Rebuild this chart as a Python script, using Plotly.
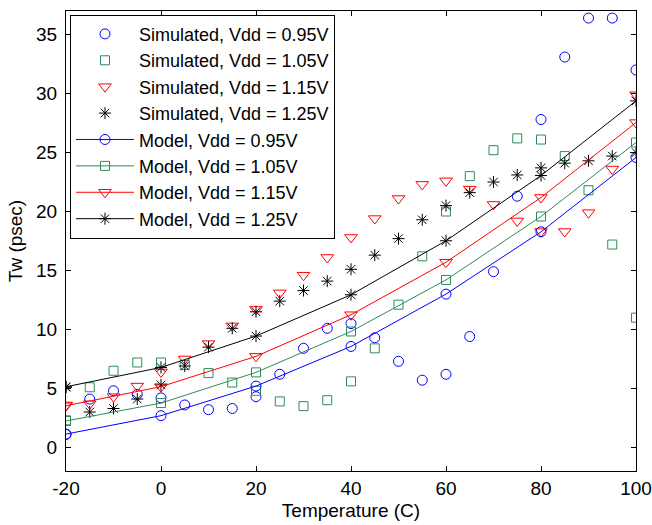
import plotly.graph_objects as go

temps_sim = [-20, -15, -10, -5, 0, 5, 10, 15, 20, 25, 30, 35, 40, 45, 50,
             55, 60, 65, 70, 75, 80, 85, 90, 95, 100]
sim_095 = [1.1, 4.1, 4.8, 4.5, 4.2, 3.6, 3.2, 3.3, 4.3, 6.2, 8.4, 10.1, 10.5, 9.3, 7.3,
           5.7, 6.2, 9.4, 14.9, 21.3, 27.8, 33.1, 36.4, 36.4, 32.0]
sim_105 = [2.3, 5.1, 6.5, 7.2, 7.2, 7.0, 6.3, 5.5, 4.8, 3.9, 3.5, 4.0, 5.6, 8.4, 12.1,
           16.2, 20.0, 23.0, 25.2, 26.2, 26.1, 24.7, 21.8, 17.2, 11.0]
sim_115 = [3.6, 3.7, 4.3, 5.2, 6.4, 7.5, 8.8, 10.3, 11.7, 13.1, 14.6, 16.1, 17.8, 19.4, 21.1,
           22.3, 22.6, 21.9, 20.6, 19.2, 18.3, 18.3, 19.9, 23.6, 29.9]
sim_125 = [5.1, 3.0, 3.3, 4.1, 5.3, 6.9, 8.5, 10.1, 11.5, 12.4, 13.3, 14.1, 15.1, 16.3, 17.7,
           19.3, 20.5, 21.6, 22.5, 23.1, 23.7, 24.1, 24.3, 24.7, 25.0]

temps_model = [-20, 0, 20, 40, 60, 80, 100]
model_095 = [1.13, 2.69, 5.2, 8.56, 13.0, 18.28, 24.58]
model_105 = [2.24, 3.76, 6.36, 9.83, 14.2, 19.58, 25.85]
model_115 = [3.53, 5.15, 7.72, 11.25, 15.7, 21.19, 27.54]
model_125 = [5.14, 6.78, 9.44, 12.94, 17.52, 23.05, 29.38]

x_ticks = [-20, 0, 20, 40, 60, 80, 100]
x_labels = ["-20", "0", "20", "40", "60", "80", "100"]
y_ticks = [0, 5, 10, 15, 20, 25, 30, 35]
y_labels = ["0", "5", "10", "15", "20", "25", "30", "35"]

BLUE = "rgb(0,0,255)"
GREEN = "rgb(46,139,87)"
RED = "rgb(255,0,0)"
BLACK = "rgb(0,0,0)"

series = [
    ("0.95V", sim_095, model_095, BLUE, "circle-open", 10),
    ("1.05V", sim_105, model_105, GREEN, "square-open", 9),
    ("1.15V", sim_115, model_115, RED, "triangle-down-open", 11),
    ("1.25V", sim_125, model_125, BLACK, "asterisk-open", 10),
]

fig = go.Figure()
g = 0
for name, sim, _, col, sym, sz in series:
    fig.add_trace(go.Scatter(
        x=temps_sim, y=sim, mode="markers", name=f"Simulated, Vdd = {name}",
        legendgroup=f"g{g}",
        marker=dict(symbol=sym, size=sz, color=col, line=dict(width=1, color=col)),
    ))
    g += 1
for name, _, mod, col, sym, sz in series:
    fig.add_trace(go.Scatter(
        x=temps_model, y=mod, mode="lines+markers", name=f"Model, Vdd = {name}",
        legendgroup=f"g{g}",
        line=dict(color=col, width=1),
        marker=dict(symbol=sym, size=sz, color=col, line=dict(width=1, color=col)),
    ))
    g += 1

FONT = "Liberation Sans, Arial, sans-serif"
axis_common = dict(
    showline=True, linecolor="black", linewidth=1, mirror="allticks",
    ticks="inside", ticklen=5, tickcolor="black", showgrid=False, zeroline=False,
    tickfont=dict(family=FONT, size=19, color="black"), automargin=False,
)
fig.update_xaxes(range=[-20, 100], tickvals=x_ticks, ticktext=x_labels, ticklabelstandoff=0,
                 title=dict(text="Temperature (C)", font=dict(family=FONT, size=19, color="black"),
                            standoff=5),
                 **axis_common)
fig.update_yaxes(range=[-2, 37], tickvals=y_ticks, ticktext=y_labels, ticklabelstandoff=4,
                 title=dict(text="Tw (psec)", font=dict(family=FONT, size=19, color="black"),
                            standoff=8),
                 **axis_common)

fig.update_layout(
    width=652, height=525,
    margin=dict(l=66, r=16, t=11, b=54, autoexpand=False),
    paper_bgcolor="white", plot_bgcolor="white",
    font=dict(family=FONT, color="black"),
    showlegend=True,
    legend=dict(
        x=0.007, y=0.992, xanchor="left", yanchor="top",
        bgcolor="white", bordercolor="black", borderwidth=1,
        font=dict(family=FONT, size=18, color="black"),
        itemwidth=58, tracegroupgap=0, traceorder="normal",
    ),
)

fig.write_html("out.html")
